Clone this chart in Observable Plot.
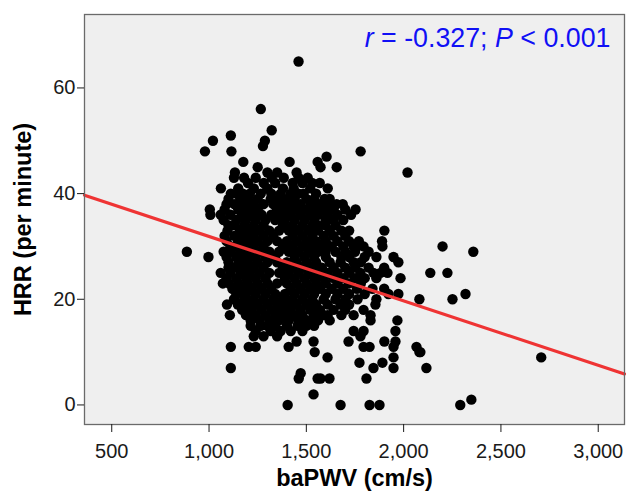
<!DOCTYPE html>
<html>
<head>
<meta charset="utf-8">
<script src="https://cdn.jsdelivr.net/npm/d3@7"></script>
<script src="https://cdn.jsdelivr.net/npm/@observablehq/plot@0.6"></script>
<style>
  html, body { margin: 0; padding: 0; background: #fff; }
  svg { font-family: "Liberation Sans", Arial, sans-serif; }
</style>
</head>
<body>
<div id="chart"></div>
<script>
// ---- data: [baPWV (cm/s), HRR (per minute)] ----
const sparsePoints = [
  [1460,65],[1266,56],[1322,52],[1287,50],[1277,49],[1112,51],[1020,50],[979,48],[1115,48],[1176,46],[1250,45],[1414,46],[1133,44],[1061,41],[1004,37],[1007,36],[886,29],[997,28],
  [1779,48],[2020,44],[1604,47],[1558,46],[1573,45],[1656,45],[1569,42],[1594,39],[1656,38],[1687,38],[1730,36],[1753,37],[1901,33],[1889,31],[2200,30],[2358,29],
  [2137,25],[2225,25],[1984,24],[1973,27],[1948,28],[2081,20],[2251,20],[2318,21],[2707,9],[2291,0],[2348,1],[1676,0],[1825,0],[1876,0],[2117,7],[2081,10],[2066,11],
  [1968,16],[1958,14],[1958,12],[1901,12],[1948,11],[1948,9],[1948,7],[1891,8],[1845,7],[1809,5],[1773,8],[1794,11],[1825,11],[1717,12],[1743,14],[1794,14],[1778,13],[1830,16],[2086,10],
  [1609,9],[1573,5],[1619,5],[1537,2],
  [1922,21],[1973,21],[1881,25],[1917,25],[1845,25],[1891,30],[1820,29],[1763,30],[1778,25],[1743,27],[1676,27],[1599,29],[1855,19],[1830,17],[1743,17],[1794,18],[1763,20],[1676,19],[1609,17],[1589,20],
  [1599,35],[1599,34],[1640,32],[1743,30],[1794,30],
  [1102,23],[1071,23],[1092,19],[1107,17],[1112,11],[1112,7],[1404,0],[1471,6],[1461,5],[1558,5],[1204,11],[1230,13],[1240,11],[1409,11],[1450,12],[1537,12],[1543,10],
  [1153,27],[1163,25],[1148,19],[1128,20],[1214,16],[1214,15],[1266,15],[1317,14],[1368,14],[1455,15],[1507,16],[1522,16],[1589,17],
  [1174,40],[1266,40],[1317,39],[1368,40],[1435,41],[1486,40],[1522,38],[1281,42],[1322,43],[1384,43],[1430,42],[1507,43],[1128,43],[1180,43],[1112,40]
];

// dense core, one row per HRR value: [HRR, [baPWV ...]] (estimated where dots overlap)
const coreRows = [
  [44, [1300,1350,1450]],
  [43, [1240,1460]],
  [42, [1200,1340,1480,1530]],
  [41, [1150,1230,1300,1380,1520,1610]],
  [40, [1140,1210,1320,1420,1460,1550]],
  [39, [1100,1160,1200,1250,1360,1400,1440,1500,1540,1620]],
  [38, [1090,1130,1180,1230,1280,1330,1380,1430,1470,1570,1610]],
  [37, [1080,1150,1200,1250,1350,1400,1450,1490,1540,1590,1640,1700]],
  [36, [1060,1110,1170,1220,1270,1320,1370,1420,1470,1520,1560,1610,1660]],
  [35, [1075,1140,1190,1240,1290,1340,1390,1440,1490,1540,1640,1690]],
  [34, [1100,1130,1180,1230,1280,1380,1430,1480,1530,1560,1650]],
  [33, [1095,1160,1210,1260,1310,1360,1410,1460,1510,1560,1620,1680,1720]],
  [32, [1080,1130,1180,1230,1280,1330,1430,1480,1530,1590,1700]],
  [31, [1090,1150,1200,1250,1300,1350,1400,1450,1500,1550,1600,1660,1720,1770]],
  [30, [1110,1130,1180,1230,1280,1380,1430,1480,1530,1580,1630,1690]],
  [29, [1075,1110,1160,1210,1260,1310,1360,1410,1460,1510,1560,1650,1700,1750]],
  [28, [1090,1140,1190,1240,1290,1340,1440,1490,1540,1600,1680,1720,1800,1860]],
  [27, [1100,1200,1250,1300,1350,1400,1450,1500,1550,1620,1780]],
  [26, [1100,1130,1180,1230,1280,1380,1430,1480,1530,1580,1640,1700,1750,1820,1900]],
  [25, [1060,1110,1210,1260,1310,1360,1410,1460,1510,1560,1610,1660,1720]],
  [24, [1090,1140,1190,1240,1290,1390,1440,1490,1540,1590,1640,1690,1750,1800,1860]],
  [23, [1150,1200,1250,1300,1350,1400,1450,1500,1550,1600,1660,1720,1780]],
  [22, [1120,1170,1220,1270,1320,1420,1470,1520,1570,1630,1690,1760,1840,1900]],
  [21, [1140,1190,1240,1290,1340,1390,1440,1490,1540,1600,1660,1720,1800]],
  [20, [1180,1230,1280,1330,1380,1430,1480,1530,1650,1700,1860]],
  [19, [1200,1250,1300,1350,1400,1450,1500,1550,1610,1720]],
  [18, [1170,1220,1270,1320,1370,1420,1470,1520,1570,1640,1700]],
  [17, [1190,1240,1290,1340,1390,1440,1480,1540,1680]],
  [16, [1260,1310,1360,1410,1460,1560,1620]],
  [15, [1300,1340,1400,1500,1540]],
  [14, [1240,1420,1480]],
  [13, [1280,1350]]
];

// regression line
const fitIntercept = 44.1;
const fitSlope = -0.0122;

const xDomain = [360, 3135];
const yDomain = [-3.7, 73.9];
const xTicks = [500, 1000, 1500, 2000, 2500, 3000];
const yTicks = [0, 20, 40, 60];
const xTitle = "baPWV (cm/s)";
const yTitle = "HRR (per minute)";
const annotParts = [["r", true], [" = -0.327; ", false], ["P", true], [" < 0.001", false]];

// ---- build table ----
const points = sparsePoints.map(([x, y]) => ({x, y}))
  .concat(coreRows.flatMap(([y, xs]) => xs.map(x => ({x, y}))));
const fitLine = xDomain.map(x => ({x, y: fitIntercept + fitSlope * x}));
const annotText = annotParts.map(d => d[0]).join("");

const chart = Plot.plot({
  width: 626,
  height: 500,
  marginLeft: 84,
  marginRight: 2,
  marginTop: 14,
  marginBottom: 76,
  style: {fontFamily: "'Liberation Sans', Arial, sans-serif", background: "#fff"},
  x: {domain: xDomain},
  y: {domain: yDomain},
  marks: [
    Plot.frame({fill: "#efefef", stroke: "none"}),
    Plot.dot(points, {x: "x", y: "y", r: 5.2, fill: "#000", stroke: "none"}),
    Plot.line(fitLine, {x: "x", y: "y", stroke: "#ef3434", strokeWidth: 3.2}),
    Plot.frame({stroke: "#6a6a6a", strokeWidth: 1.3}),
    Plot.axisX({ticks: xTicks, tickFormat: d3.format(","), tickSize: 8, tickPadding: 11, fontSize: 20, label: null, color: "#1a1a1a"}),
    Plot.axisY({ticks: yTicks, tickSize: 7, tickPadding: 2, fontSize: 20, label: null, color: "#1a1a1a"}),
    Plot.text([xTitle], {frameAnchor: "bottom", dy: 61, fontSize: 23.5, fontWeight: "bold", fill: "#000"}),
    Plot.text([yTitle], {frameAnchor: "left", dx: -61, rotate: -90, textAnchor: "middle", fontSize: 23.5, fontWeight: "bold", fill: "#000"}),
    Plot.text([annotText], {frameAnchor: "top-right", dx: -14, dy: 13.5, textAnchor: "end", lineAnchor: "top", fontSize: 26.8, fill: "#1010f5"})
  ]
});

// italic r and P in the annotation
d3.select(chart).selectAll("text").filter(function() { return this.textContent === annotText; })
  .each(function() {
    const t = d3.select(this);
    t.text(null);
    annotParts.forEach(([s, it]) => {
      t.append("tspan").attr("font-style", it ? "italic" : null).text(s);
    });
  });

document.getElementById("chart").appendChild(chart);
</script>
</body>
</html>
